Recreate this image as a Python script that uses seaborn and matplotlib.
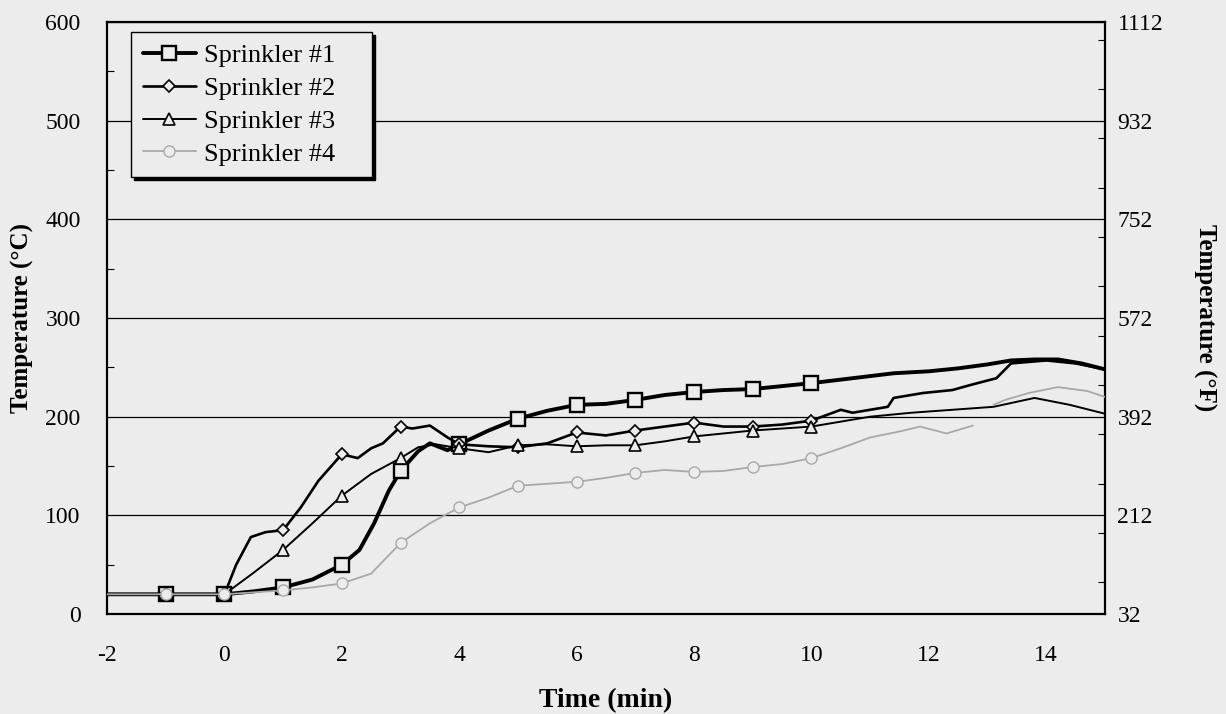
import numpy as np
import pandas as pd
import matplotlib
matplotlib.use('Agg')
import matplotlib.pyplot as plt
import seaborn as sns
from matplotlib.ticker import MultipleLocator

# Sprinkler #1 (squares)
t1 = [-2, -1, 0, 0.5, 1, 1.5, 2, 2.3, 2.55, 2.8, 3, 3.3, 3.5, 3.8, 4, 4.5, 5, 5.5, 6, 6.5, 7, 7.5,
      8, 8.5, 9, 9.5, 10, 10.7, 11.4, 12, 12.5, 13, 13.4, 13.8, 14.2, 14.6, 15]
s1 = [20, 20, 20, 23, 27, 35, 50, 65, 92, 125, 145, 165, 173, 166, 172, 186, 198, 206, 212, 213, 217, 222,
      225, 227, 228, 231, 234, 239, 244, 246, 249, 253, 257, 258, 258, 254, 248]

# Sprinkler #2 (diamonds)
t2 = [-2, -1, 0, 0.2, 0.45, 0.7, 1, 1.3, 1.6, 2, 2.27, 2.5, 2.7, 3, 3.2, 3.5, 3.8, 4, 4.5, 5, 5.5, 6,
      6.5, 7, 7.5, 8, 8.5, 9, 9.5, 10, 10.5, 10.7, 11.3, 11.4, 11.9, 12.4, 12.7, 13.15, 13.4, 14, 14.5, 15]
s2 = [20, 20, 20, 50, 78, 83, 85, 108, 135, 162, 158, 168, 173, 190, 188, 191, 179, 172, 170, 169, 173, 184,
      181, 186, 190, 194, 190, 190, 192, 196, 207, 204, 210, 219, 224, 227, 232, 239, 254, 257, 254, 248]

# Sprinkler #3 (triangles)
t3 = [-2, -1, 0, 0.5, 1, 1.5, 2, 2.5, 3, 3.3, 3.6, 4, 4.5, 5, 5.5, 6, 6.5, 7, 7.5, 8, 8.5, 9, 9.5, 10,
      10.5, 11, 11.7, 12.4, 13.1, 13.8, 14.4, 15]
s3 = [20, 20, 20, 42, 65, 92, 120, 142, 158, 169, 172, 168, 164, 171, 172, 170, 171, 171, 175, 180, 183, 186, 188, 190,
      195, 200, 204, 207, 210, 219, 212, 203]

# Sprinkler #4 (circles, light grey) - the record has a short gap near 13 min
t4 = [-2, -1, 0, 0.5, 1, 1.5, 2, 2.5, 3, 3.5, 4, 4.5, 5, 5.5, 6, 6.5, 7, 7.5, 8, 8.5, 9, 9.5, 10,
      10.5, 11, 11.5, 11.85, 12.3, 12.75, 12.9, 13.1, 13.3, 13.7, 14.2, 14.7, 15]
s4 = [20, 20, 20, 22, 24, 27, 31, 41, 72, 92, 108, 118, 130, 132, 134, 138, 143, 146, 144, 145, 149, 152, 158,
      168, 179, 185, 190, 183, 191, np.nan, 212, 217, 224, 230, 226, 220]

labels = ['Sprinkler #1', 'Sprinkler #2', 'Sprinkler #3', 'Sprinkler #4']
bg = '#ececec'

sns.set_style('white')
plt.rcParams['font.family'] = ['Liberation Serif', 'DejaVu Serif']
plt.rcParams['axes.unicode_minus'] = False
plt.rcParams['text.color'] = 'black'
plt.rcParams['axes.labelcolor'] = 'black'
plt.rcParams['xtick.color'] = 'black'
plt.rcParams['ytick.color'] = 'black'

fig = plt.figure(figsize=(12.26, 7.14), dpi=100, facecolor=bg)
ax = fig.add_axes([0.0873, 0.14, 0.814, 0.8292])
ax.set_facecolor(bg)

styles = [
    dict(color='black', lw=2.8, marker='s', ms=10, mew=1.7),
    dict(color='black', lw=1.9, marker='D', ms=6.5, mew=1.2),
    dict(color='black', lw=1.4, marker='^', ms=8, mew=1.2),
    dict(color='#a8a8a8', lw=1.3, marker='o', ms=8, mew=1.0),
]

for t, s, lab, st in zip([t1, t2, t3, t4], [s1, s2, s3, s4], labels, styles):
    df = pd.DataFrame({'t': t, 'T': s})
    # split at gaps so missing readings stay missing
    ok = df['T'].notna()
    seg_id = (~ok).cumsum()
    first = True
    for _, seg in df[ok].groupby(seg_id[ok]):
        seg = seg.reset_index(drop=True)
        mk = [i for i, v in enumerate(seg['t']) if float(v).is_integer() and -1 <= v <= 10]
        sns.lineplot(data=seg, x='t', y='T', ax=ax, estimator=None, sort=False,
                     color=st['color'], lw=st['lw'], marker=st['marker'] if mk else '', ms=st['ms'],
                     mew=st['mew'], mfc=bg, mec=st['color'], markevery=mk if mk else None,
                     label=lab if first else None, zorder=3)
        first = False

ax.set_xlim(-2, 15)
ax.set_ylim(0, 600)
ax.set_xticks(range(-2, 15, 2))
ax.xaxis.set_minor_locator(MultipleLocator(1))
ax.set_yticks(range(0, 601, 100))
ax.yaxis.set_minor_locator(MultipleLocator(50))
ax.yaxis.grid(True, color='black', lw=0.9)
ax.xaxis.grid(False)
ax.tick_params(axis='both', which='both', direction='in', labelsize=17, color='black')
ax.tick_params(axis='x', which='major', length=0, pad=22)
ax.tick_params(axis='x', which='minor', length=5, width=0.8)
ax.tick_params(axis='y', which='major', length=0, pad=19)
ax.tick_params(axis='y', which='minor', length=5, width=0.8)
for sp in ax.spines.values():
    sp.set_color('black')
    sp.set_linewidth(1.6)
ax.set_xlabel('Time (min)', fontsize=20, fontweight='bold', labelpad=16)
ax.set_ylabel('Temperature (°C)', fontsize=18, fontweight='bold', labelpad=8)

ax2 = ax.twinx()
ax2.set_ylim(32, 32 + 600 * 1.8)
ax2.set_yticks([32 + 180 * k for k in range(7)])
ax2.yaxis.set_minor_locator(MultipleLocator(90))
ax2.tick_params(axis='y', which='major', length=0, pad=9, labelsize=17)
ax2.tick_params(axis='y', which='minor', direction='in', length=5, width=0.8)
ax2.set_ylabel('Temperature (°F)', fontsize=18, fontweight='bold', rotation=-90, labelpad=38)
for sp in ax2.spines.values():
    sp.set_visible(False)

leg = ax.legend(loc='upper left', bbox_to_anchor=(0.024, 0.0, 0.2415, 0.983), mode='expand',
                fontsize=19, frameon=True, fancybox=False,
                shadow={'color': 'black', 'alpha': 1.0}, borderpad=0.45,
                labelspacing=0.35, handlelength=2.0, handletextpad=0.3, borderaxespad=0)
leg.get_frame().set_edgecolor('black')
leg.get_frame().set_linewidth(1.0)
leg.get_frame().set_facecolor(bg)
leg.get_frame().set_alpha(1)

fig.savefig('out.png', dpi=100, facecolor=bg)
